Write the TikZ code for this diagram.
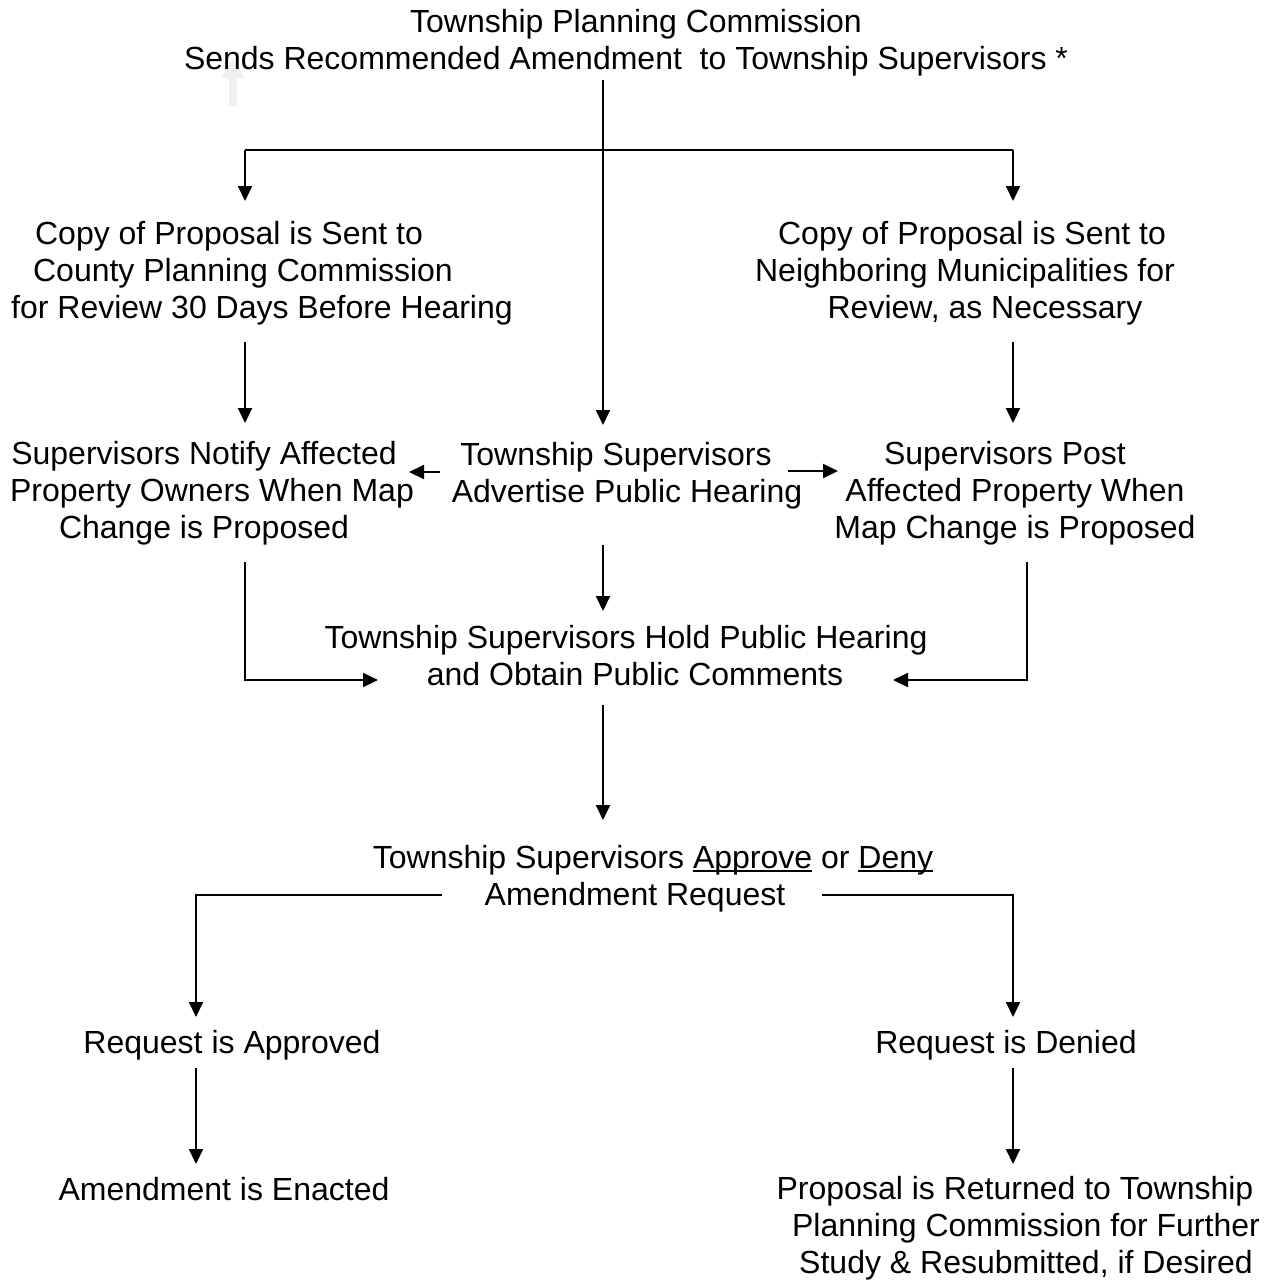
\documentclass[tikz,border=0pt]{standalone}
\usepackage{fontspec}
\setmainfont{Liberation Sans}
\usetikzlibrary{arrows.meta}
\newcommand\myul[1]{{\setbox0\hbox{#1}\rlap{\rule[-1.9pt]{\wd0}{0.9pt}}\box0}}
\newcommand\padd[1]{\hbox to #1{}}
\tikzset{
  lbl/.style={anchor=base, align=center, inner sep=0pt, font=\fontsize{16}{18.5}\selectfont},
  conn/.style={line width=1pt},
  arr/.style={conn, -{Triangle[length=7.5pt,width=7pt]}}
}
\begin{document}
\begin{tikzpicture}[x=0.5pt,y=-0.5pt]
\useasboundingbox (0,0) rectangle (1272,1281);
% faint block arrow
\fill[black!6] (233,58) -- (245,78) -- (237,78) -- (237,106) -- (229,106) -- (229,78) -- (221,78) -- cycle;
% texts (anchor = baseline of last line)
\node[lbl] (top) at (636,69) {Township Planning Commission\\Sends Recommended Amendment\ \ to Township Supervisors *\padd{10pt}};
\node[lbl] (copyL) at (262,318) {Copy of Proposal is Sent to\padd{33pt}\\County Planning Commission\padd{19pt}\\for Review 30 Days Before Hearing};
\node[lbl] (copyR) at (972,318) {Copy of Proposal is Sent to\\Neighboring Municipalities for\padd{7pt}\\\padd{13pt}Review, as Necessary};
\node[lbl] (notify) at (204,538) {Supervisors Notify Affected\\\padd{8pt}Property Owners When Map\\Change is Proposed};
\node[lbl] (advert) at (616,502) {Township Supervisors\\\padd{11pt}Advertise Public Hearing};
\node[lbl] (post) at (1015,538) {Supervisors Post\padd{10pt}\\Affected Property When\\Map Change is Proposed};
\node[lbl] (hold) at (626,685) {Township Supervisors Hold Public Hearing\\\padd{9pt}and Obtain Public Comments};
\node[lbl] (decide) at (653,905) {Township Supervisors \myul{Approve} or \myul{Deny}\\Amendment Request\padd{18pt}};
\node[lbl] (approved) at (232,1053) {Request is Approved};
\node[lbl] (denied) at (1006,1053) {Request is Denied};
\node[lbl] (enacted) at (224,1200) {Amendment is Enacted};
\node[lbl] (returned) at (1026,1273) {Proposal is Returned to Township\padd{11pt}\\Planning Commission for Further\\Study \& Resubmitted, if Desired};
% coordinates
\coordinate (t0) at (603,80);
\coordinate (bL) at (245,150);
\coordinate (bR) at (1013,150);
\coordinate (cLin) at (245,201);
\coordinate (cRin) at (1013,201);
\coordinate (aIn) at (603,425);
\coordinate (cLout) at (245,342);
\coordinate (cRout) at (1013,342);
\coordinate (nIn) at (245,423);
\coordinate (pIn) at (1013,423);
\coordinate (aL) at (440,472);
\coordinate (nR) at (409,472);
\coordinate (aR) at (788,471);
\coordinate (pL) at (838,471);
\coordinate (aOut) at (603,545);
\coordinate (hIn) at (603,611);
\coordinate (nOut) at (245,562);
\coordinate (nCorner) at (245,680);
\coordinate (hL) at (378,680);
\coordinate (pOut) at (1027,562);
\coordinate (pCorner) at (1027,680);
\coordinate (hR) at (893,680);
\coordinate (hOut) at (603,705);
\coordinate (dIn) at (603,820);
\coordinate (dL) at (442,895);
\coordinate (dLc) at (196,895);
\coordinate (apIn) at (196,1017);
\coordinate (dR) at (822,895);
\coordinate (dRc) at (1013,895);
\coordinate (deIn) at (1013,1017);
\coordinate (apOut) at (196,1068);
\coordinate (enIn) at (196,1164);
\coordinate (deOut) at (1013,1068);
\coordinate (reIn) at (1013,1164);
% connectors
\draw[arr] (t0) -- (aIn);
\draw[conn] (bL) -- (bR);
\draw[arr] (bL) -- (cLin);
\draw[arr] (bR) -- (cRin);
\draw[arr] (cLout) -- (nIn);
\draw[arr] (cRout) -- (pIn);
\draw[arr] (aL) -- (nR);
\draw[arr] (aR) -- (pL);
\draw[arr] (aOut) -- (hIn);
\draw[arr] (nOut) -- (nCorner) -- (hL);
\draw[arr] (pOut) -- (pCorner) -- (hR);
\draw[arr] (hOut) -- (dIn);
\draw[arr] (dL) -- (dLc) -- (apIn);
\draw[arr] (dR) -- (dRc) -- (deIn);
\draw[arr] (apOut) -- (enIn);
\draw[arr] (deOut) -- (reIn);
\end{tikzpicture}
\end{document}
